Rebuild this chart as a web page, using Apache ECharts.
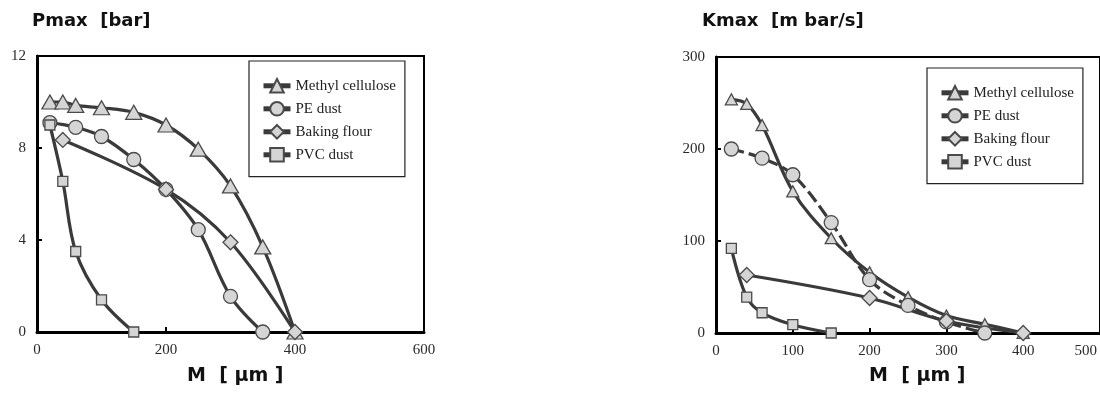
<!DOCTYPE html>
<html>
<head>
<meta charset="utf-8">
<script src="https://cdn.jsdelivr.net/npm/echarts@6/dist/echarts.min.js"></script>
<style>
  html, body { margin: 0; padding: 0; background: #fff; }
  #pmax, #kmax { position: absolute; top: 0; width: 550px; height: 398px; }
  #pmax { left: 0; }
  #kmax { left: 550px; }
</style>
</head>
<body>
<div id="pmax"></div>
<div id="kmax"></div>
<script>
// Particle size M [µm] for each dust
const mMethyl = [20, 40, 60, 100, 150, 200, 250, 300, 350, 400];
const mPE = [20, 60, 100, 150, 200, 250, 300, 350];
const mBaking = [40, 200, 300, 400];
const mPVC = [20, 40, 60, 100, 150];

// Maximum explosion pressure Pmax [bar]
const pMethyl = [10.0, 10.0, 9.85, 9.75, 9.55, 9.0, 7.95, 6.35, 3.7, 0];
const pPE = [9.1, 8.9, 8.5, 7.5, 6.2, 4.45, 1.55, 0];
const pBaking = [8.35, 6.2, 3.9, 0];
const pPVC = [9.0, 6.55, 3.5, 1.4, 0];

// Maximum rate of pressure rise Kmax [m bar/s]
const kMethyl = [254, 249, 226, 154, 103, 66, 39, 19, 9.5, 0];
const kPE = [200, 190, 172, 120, 58, 30, 12, 0];
const kBaking = [63, 38, 13, 0];
const kPVC = [92, 39, 22, 9, 0];

const dustNames = ['Methyl cellulose', 'PE dust', 'Baking flour', 'PVC dust'];

const LINE = '#3a3a3a';
const FILL = '#d5d5d5';
const EDGE = '#4a4a4a';
const TICK_FONT = '"Liberation Serif", serif';
const TITLE_FONT = 'bold 18px "DejaVu Sans", sans-serif';
const AXIS_TITLE_FONT = 'bold 19px "DejaVu Sans", sans-serif';

function pairs(xs, ys) { return xs.map((x, i) => [x, ys[i]]); }

function lineSeries(name, xs, ys, symbol, size, dash) {
  return {
    name: name,
    type: 'line',
    data: pairs(xs, ys),
    smooth: 0.35,
    symbol: symbol,
    symbolSize: size,
    showAllSymbol: true,
    lineStyle: { color: LINE, width: 3.2, type: dash || 'solid' },
    itemStyle: { color: FILL, borderColor: EDGE, borderWidth: 1.3 },
    emphasis: { disabled: true },
    animation: false
  };
}

function axisCommon() {
  return {
    type: 'value',
    axisLine: { show: true, onZero: false, lineStyle: { color: '#000', width: 3 } },
    axisTick: { show: true, inside: true, length: 5, lineStyle: { color: '#000', width: 2 } },
    splitLine: { show: false },
    axisLabel: { color: '#2a2a2a', fontFamily: TICK_FONT, fontSize: 15, margin: 11 }
  };
}

function legendOpt(left, top) {
  return {
    left: left, top: top,
    orient: 'vertical',
    data: dustNames,
    backgroundColor: '#fff',
    borderColor: '#222',
    borderWidth: 1.2,
    borderRadius: 0,
    padding: [17, 9, 14, 12],
    itemWidth: 27,
    itemHeight: 17,
    itemGap: 7.4,
    selectedMode: false,
    lineStyle: { width: 5, type: 'solid', color: LINE },
    textStyle: { fontFamily: TICK_FONT, fontSize: 15, color: '#222' }
  };
}

function titleText(text, x, y, font) {
  return { type: 'text', left: x, top: y, silent: true,
           style: { text: text, font: font || TITLE_FONT, fill: '#111' } };
}

// Left panel: Pmax
const pmaxChart = echarts.init(document.getElementById('pmax'), null, { renderer: 'canvas' });
pmaxChart.setOption({
  animation: false,
  grid: { left: 37, top: 56, width: 387, height: 276, show: true,
          borderColor: '#000', borderWidth: 2, backgroundColor: 'transparent' },
  xAxis: Object.assign(axisCommon(), { min: 0, max: 600, interval: 200 }),
  yAxis: Object.assign(axisCommon(), { min: 0, max: 12, interval: 4 }),
  legend: legendOpt(249, 61),
  graphic: [
    titleText('Pmax  [bar]', 32, 12),
    titleText('M  [ µm ]', 187, 367, AXIS_TITLE_FONT)
  ],
  series: [
    lineSeries(dustNames[0], mMethyl, pMethyl, 'triangle', [16, 14]),
    lineSeries(dustNames[1], mPE, pPE, 'circle', 14),
    lineSeries(dustNames[2], mBaking, pBaking, 'diamond', 15),
    lineSeries(dustNames[3], mPVC, pPVC, 'rect', 10)
  ]
});

// Right panel: Kmax (PE dust drawn dashed)
const kmaxChart = echarts.init(document.getElementById('kmax'), null, { renderer: 'canvas' });
const kx = axisCommon();
kx.axisLabel = Object.assign({}, kx.axisLabel, {
  alignMaxLabel: 'right',
  formatter: function (v) { return v === 500 ? '{r|500}' : String(v); },
  rich: { r: { fontFamily: TICK_FONT, fontSize: 15, color: '#2a2a2a', padding: [0, 3, 0, 0] } }
});
kmaxChart.setOption({
  animation: false,
  grid: { left: 166, top: 57, width: 386, height: 276, show: true,
          borderColor: '#000', borderWidth: 2, backgroundColor: 'transparent' },
  xAxis: Object.assign(kx, { min: 0, max: 500, interval: 100 }),
  yAxis: Object.assign(axisCommon(), { min: 0, max: 300, interval: 100 }),
  legend: legendOpt(377, 68),
  graphic: [
    titleText('Kmax  [m bar/s]', 152, 12),
    titleText('M  [ µm ]', 319, 367, AXIS_TITLE_FONT)
  ],
  series: [
    lineSeries(dustNames[0], mMethyl, kMethyl, 'triangle', [12, 11]),
    lineSeries(dustNames[1], mPE, kPE, 'circle', 14, [13, 5]),
    lineSeries(dustNames[2], mBaking, kBaking, 'diamond', 15),
    lineSeries(dustNames[3], mPVC, kPVC, 'rect', 10)
  ]
});
</script>
</body>
</html>
